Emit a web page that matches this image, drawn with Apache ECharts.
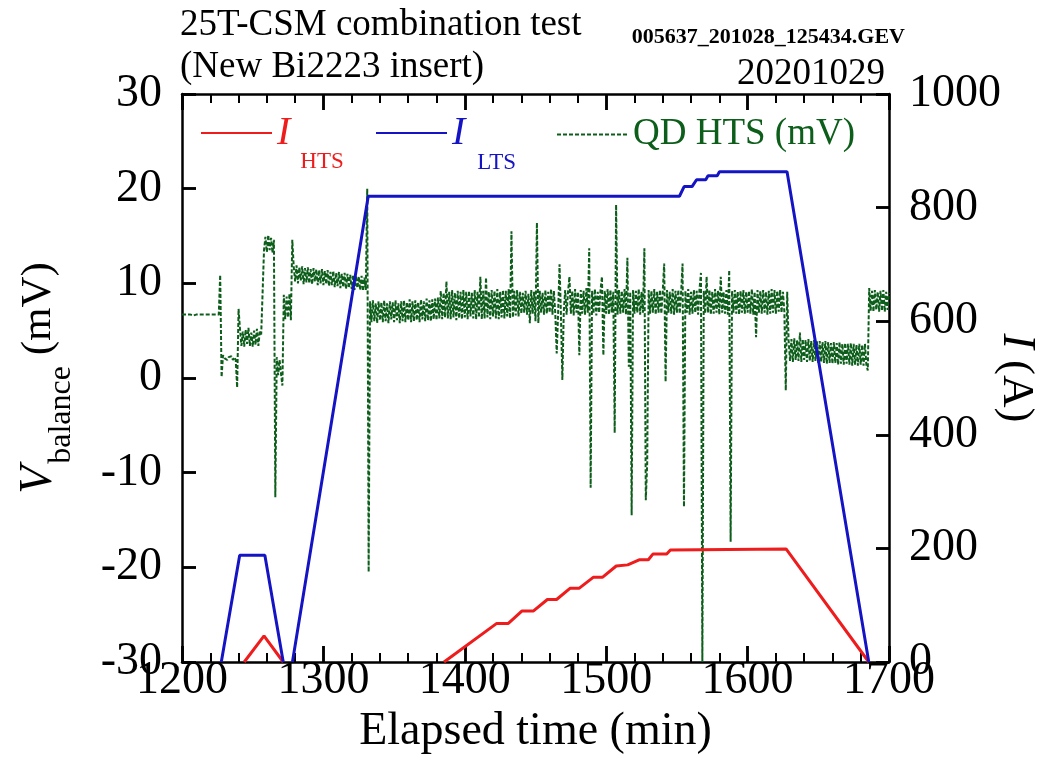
<!DOCTYPE html>
<html>
<head>
<meta charset="utf-8">
<script src="https://cdn.jsdelivr.net/npm/echarts@6/dist/echarts.min.js"></script>
<style>html,body{margin:0;padding:0;background:#fff}#c{width:1062px;height:766px}</style>
</head>
<body>
<div id="c"></div>
<script>
// ---- data ----
const xTicks = [1200, 1300, 1400, 1500, 1600, 1700];
const vTicks = [-30, -20, -10, 0, 10, 20, 30];
const iTicks = [0, 200, 400, 600, 800, 1000];

// I_HTS (A) vs elapsed time (min); null = gap
const htsTime = [1244, 1258, 1271.6, 1300, 1385.3, 1422.6, 1430.8, 1440.5, 1448.6, 1458.4, 1464.9, 1474.6, 1481.0, 1490.8, 1497.3, 1507.1, 1515.2, 1523.3, 1529.8, 1533.0, 1542.8, 1545.4, 1627.2, 1685.7];
const htsCurrent = [0, 46, 0, null, 0, 68, 68, 90, 90, 110, 110, 130, 130, 149, 149, 169, 171, 180, 180, 190, 190, 197, 199, 0];

// I_LTS (A) vs elapsed time (min); null = gap
const ltsTime = [1227.8, 1240.8, 1258.6, 1271.6, 1275, 1278.1, 1331.7, 1551.8, 1555.1, 1560.7, 1563.9, 1570.4, 1572.0, 1578.5, 1580.1, 1627.9, 1685.7];
const ltsCurrent = [0, 188, 188, 0, null, 0, 820, 820, 837, 837, 849, 849, 856, 856, 863, 863, 0];

// QD HTS balance voltage (mV), logged once per minute from qdStart
const qdStart = 1200;
const qdStep = 1;
const qdValues = [
  6.7,6.6,6.7,6.8,6.7,6.6,6.7,6.7,6.6,6.7,      // 1200
  6.7,6.6,6.7,6.8,6.7,6.6,6.7,6.6,6.7,6.6,      // 1210
  6.7,6.6,6.7,6.6,6.7,6.6,6.7,10.9,0.1,2.4,     // 1220
  2.1,2.3,1.9,2.2,2.0,2.3,1.9,2.2,1.9,-1.0,     // 1230
  7.3,5.2,3.4,4.9,3.3,5.1,3.6,5.3,3.4,4.8,      // 1240
  3.3,5.0,3.5,5.2,3.4,4.9,4.6,9.0,13.5,14.9,    // 1250
  13.3,15.1,13.5,14.8,13.2,14.6,-12.6,2.2,0.3,1.9, // 1260
  0.5,-0.8,8.8,6.2,8.6,6.4,8.9,6.1,14.6,11.8,   // 1270
  10.2,11.9,10.0,11.7,10.3,11.8,9.9,11.6,10.1,11.7, // 1280
  10.0,11.5,9.9,11.6,10.2,11.5,9.8,11.4,10.0,11.5,  // 1290
  9.8,11.3,9.9,11.4,9.7,11.2,9.8,11.3,9.6,11.1,  // 1300
  9.7,11.2,9.5,11.0,9.6,11.1,9.4,11.0,9.5,10.9,  // 1310
  9.4,10.9,9.3,10.8,9.5,10.7,9.3,10.8,9.2,10.6,  // 1320
  9.3,20.0,-20.5,8.1,5.9,8.2,6.0,7.9,5.8,8.1,    // 1330
  6.1,8.0,5.9,8.2,6.0,7.9,5.8,8.1,6.2,8.0,       // 1340
  5.9,8.2,6.1,7.9,5.8,8.1,6.0,8.2,5.9,8.0,       // 1350
  6.1,8.3,5.9,8.1,6.0,8.2,6.1,8.0,5.9,8.3,       // 1360
  6.2,8.1,6.0,8.4,6.1,8.2,6.0,8.3,6.2,8.4,       // 1370
  6.1,8.5,6.3,9.2,6.2,9.0,6.4,10.2,6.3,9.1,      // 1380
  6.2,9.3,6.4,9.0,6.1,9.2,6.3,9.1,6.2,9.3,       // 1390
  6.4,9.1,6.2,9.2,6.5,9.0,6.3,9.3,6.2,9.1,       // 1400
  6.4,10.7,6.2,9.2,6.3,10.6,6.4,9.1,6.2,9.3,     // 1410
  6.5,9.2,6.3,9.4,6.2,9.1,6.4,9.3,6.3,9.2,       // 1420
  6.5,9.4,6.3,15.5,6.4,9.2,6.6,9.3,6.5,9.1,      // 1430
  6.8,9.0,6.9,9.2,6.7,8.9,5.8,9.3,6.8,9.1,       // 1440
  6.0,16.4,5.8,9.2,6.9,9.0,6.7,9.3,6.8,9.1,      // 1450
  6.9,9.4,6.7,9.2,6.8,2.6,6.9,12.0,6.6,-0.2,     // 1460
  7.0,9.3,6.7,9.1,10.7,6.8,9.2,6.6,9.4,6.9,      // 1470
  9.1,2.4,9.3,6.8,9.2,6.7,9.5,6.9,13.7,-11.6,    // 1480
  9.2,6.8,9.4,6.6,9.1,6.9,9.3,10.7,2.4,9.2,      // 1490
  6.8,9.4,6.7,9.3,6.9,9.1,-5.8,18.3,6.7,9.3,     // 1500
  6.8,9.2,6.9,9.4,6.7,12.7,1.2,9.1,-14.5,9.3,    // 1510
  6.8,9.2,6.9,9.4,6.7,9.1,6.9,13.7,-12.9,-9.0,   // 1520
  9.3,6.8,9.2,6.9,9.4,6.7,9.1,6.9,9.3,6.8,       // 1530
  9.2,12.1,-0.4,9.3,6.9,9.1,6.8,9.4,6.7,9.2,     // 1540
  6.9,9.3,6.8,9.1,12.1,-13.6,9.2,6.9,9.4,6.7,    // 1550
  9.1,6.8,9.3,6.9,9.2,6.7,9.4,11.1,-30,9.2,      // 1560
  6.8,10.7,6.9,9.3,6.7,9.1,6.8,9.4,6.9,9.2,      // 1570
  6.7,10.7,6.9,9.1,6.8,9.3,6.7,11.4,-17.3,9.2,   // 1580
  6.9,9.3,6.8,9.1,6.7,9.2,6.9,9.3,6.8,9.1,       // 1590
  6.9,9.2,6.8,9.4,6.7,9.1,4.3,9.3,6.9,9.2,       // 1600
  6.8,9.3,6.9,9.1,6.7,9.2,6.8,9.4,6.9,9.3,       // 1610
  6.8,9.2,7.0,9.3,6.9,9.1,7.0,-1.3,9.1,4.0,      // 1620
  1.8,4.1,1.7,4.2,1.9,4.0,1.8,4.8,1.7,4.1,       // 1630
  1.9,4.0,1.7,4.1,1.8,3.9,1.7,4.0,1.8,3.9,       // 1640
  1.6,3.9,1.7,3.8,1.6,3.9,1.5,3.8,1.6,3.7,       // 1650
  1.5,3.8,1.6,3.7,1.4,3.8,1.5,3.6,1.4,3.7,       // 1660
  1.5,3.6,1.4,3.7,1.3,3.6,1.4,3.5,1.3,3.6,       // 1670
  1.4,3.5,1.3,3.6,1.4,0.8,9.5,7.1,9.2,7.0,       // 1680
  9.3,7.2,9.1,7.0,9.2,7.1,9.3,7.0,9.1,7.2,       // 1690
  9.0                                            // 1700
];

// ---- build series data ----
const pair = (t, v) => (v === null ? [t, '-'] : [t, v]);
const htsData = htsTime.map((t, i) => pair(t, htsCurrent[i]));
const ltsData = ltsTime.map((t, i) => pair(t, ltsCurrent[i]));
const qdData = qdValues.map((v, i) => [qdStart + i * qdStep, v]);

const FONT = "'Liberation Serif','Times New Roman',serif";
const RED = '#ee1c1c';
const BLUE = '#1414c4';
const GREEN = '#0c5e1a';
const BLACK = '#000000';

const X_MIN = xTicks[0], X_MAX = xTicks[xTicks.length - 1];
const V_MIN = vTicks[0], V_MAX = vTicks[vTicks.length - 1];
const I_MIN = iTicks[0], I_MAX = iTicks[iTicks.length - 1];

function mkLine() { return { show: true, onZero: false, lineStyle: { color: BLACK, width: 2.5 } }; }
function mkTick(len) { return { show: true, inside: true, length: len, lineStyle: { color: BLACK, width: 2.5 } }; }
function mkMinor() { return { show: true, splitNumber: 5, length: 9, lineStyle: { color: BLACK, width: 2 } }; }
function mkLabel(margin, ticks) {
  return { show: true, margin: margin, color: BLACK, fontFamily: FONT, fontSize: 46,
           formatter: function (v) { return ticks.indexOf(v) >= 0 ? String(v) : ''; } };
}
function hidden() {
  return { axisLine: { show: false }, axisTick: { show: false }, axisLabel: { show: false }, splitLine: { show: false } };
}
// tick strips: short split lines of the axis scale inside thin grids along each frame edge
function tickStripAxis(gridIndex, min, max, interval, minor) {
  return { type: 'value', gridIndex: gridIndex, min: min, max: max, interval: interval,
    axisLine: { show: false }, axisTick: { show: false }, axisLabel: { show: false },
    minorTick: { show: false, splitNumber: 5 },
    splitLine: { show: !minor, lineStyle: { color: BLACK, width: 2.5 } },
    minorSplitLine: { show: !!minor, lineStyle: { color: BLACK, width: 2 } } };
}
function unitAxis(gridIndex) {
  return Object.assign({ type: 'value', gridIndex: gridIndex, min: 0, max: 1 }, hidden());
}

const L = 182, R = 173, T = 94, B = 104;

const chart = echarts.init(document.getElementById('c'));
chart.setOption({
  animation: false,
  backgroundColor: '#ffffff',
  title: [
    { text: '25T-CSM combination test\n(New Bi2223 insert)', left: 180, top: 4, padding: 0,
      textStyle: { fontFamily: FONT, fontSize: 37, fontWeight: 'normal', color: BLACK, lineHeight: 42 } },
    { text: '005637_201028_125434.GEV', right: 157, top: 26, padding: 0,
      textStyle: { fontFamily: FONT, fontSize: 22, fontWeight: 'bold', color: BLACK } },
    { text: '20201029', right: 177, top: 56, padding: 0,
      textStyle: { fontFamily: FONT, fontSize: 37, fontWeight: 'normal', color: BLACK } }
  ],
  legend: [
    { data: ['I_HTS'], left: 200, top: 113, padding: 0, itemWidth: 71, itemHeight: 2, selectedMode: false,
      itemStyle: { opacity: 0 },
      formatter: function () { return '{i|I}{s|HTS}'; },
      textStyle: { rich: {
        i: { fontFamily: FONT, fontStyle: 'italic', fontSize: 40, color: RED },
        s: { fontFamily: FONT, fontSize: 23, color: RED, padding: [58, 0, 0, 10] } } } },
    { data: ['I_LTS'], left: 375, top: 113, padding: 0, itemWidth: 71, itemHeight: 2, selectedMode: false,
      itemStyle: { opacity: 0 },
      formatter: function () { return '{i|I}{s|LTS}'; },
      textStyle: { rich: {
        i: { fontFamily: FONT, fontStyle: 'italic', fontSize: 40, color: BLUE },
        s: { fontFamily: FONT, fontSize: 23, color: BLUE, padding: [60, 0, 0, 12] } } } },
    { data: ['QD HTS (mV)'], left: 556, top: 116, padding: 0, itemWidth: 71, itemHeight: 2, selectedMode: false,
      itemStyle: { opacity: 0 },
      textStyle: { fontFamily: FONT, fontSize: 37, color: GREEN } }
  ],
  grid: [
    { left: L, right: R, top: T, bottom: B, containLabel: false },            // 0 data
    { left: L, right: R, top: T, bottom: B, containLabel: false },            // 1 frame, labels, names
    { left: L, right: R, top: T, height: 16, containLabel: false },           // 2 top major ticks
    { left: L, right: R, top: T, height: 9, containLabel: false },            // 3 top minor ticks
    { left: L, right: R, bottom: B, height: 16, containLabel: false },        // 4 bottom major ticks
    { left: L, right: R, bottom: B, height: 9, containLabel: false },         // 5 bottom minor ticks
    { left: L, width: 14, top: T, bottom: B, containLabel: false },           // 6 left ticks
    { right: R, width: 13, top: T, bottom: B, containLabel: false }           // 7 right ticks
  ],
  xAxis: [
    Object.assign({ type: 'value', gridIndex: 0, position: 'bottom', min: X_MIN, max: X_MAX }, hidden()),
    { type: 'value', gridIndex: 1, position: 'bottom', min: X_MIN, max: X_MAX, interval: 100,
      axisLine: mkLine(), axisTick: mkTick(16), minorTick: mkMinor(),
      axisLabel: mkLabel(-4, xTicks), splitLine: { show: false },
      name: 'Elapsed time (min)', nameLocation: 'middle', nameGap: 46,
      nameTextStyle: { fontFamily: FONT, fontSize: 46, color: BLACK } },
    { type: 'value', gridIndex: 1, position: 'top', min: X_MIN, max: X_MAX, interval: 100,
      axisLine: mkLine(), axisTick: mkTick(16), minorTick: mkMinor(),
      axisLabel: { show: false }, splitLine: { show: false } },
    tickStripAxis(2, X_MIN, X_MAX, 100, false),
    tickStripAxis(3, X_MIN, X_MAX, 100, true),
    tickStripAxis(4, X_MIN, X_MAX, 100, false),
    tickStripAxis(5, X_MIN, X_MAX, 100, true),
    unitAxis(6),
    unitAxis(7)
  ],
  yAxis: [
    Object.assign({ type: 'value', gridIndex: 0, position: 'left', min: V_MIN, max: V_MAX }, hidden()),
    Object.assign({ type: 'value', gridIndex: 0, position: 'right', min: I_MIN, max: I_MAX }, hidden()),
    { type: 'value', gridIndex: 1, position: 'left', min: V_MIN, max: V_MAX, interval: 10,
      axisLine: mkLine(), axisTick: mkTick(14),
      axisLabel: mkLabel(20, vTicks), splitLine: { show: false },
      name: '{i|V}{s|balance}{n| (mV)}', nameLocation: 'middle', nameRotate: 90, nameGap: 104,
      nameTextStyle: { rich: {
        i: { fontFamily: FONT, fontStyle: 'italic', fontSize: 46, color: BLACK },
        s: { fontFamily: FONT, fontSize: 32, color: BLACK, padding: [46, 0, 0, 2] },
        n: { fontFamily: FONT, fontSize: 43, color: BLACK } } } },
    { type: 'value', gridIndex: 1, position: 'right', min: I_MIN, max: I_MAX, interval: 200,
      axisLine: mkLine(), axisTick: mkTick(13),
      axisLabel: mkLabel(20, iTicks), splitLine: { show: false },
      name: '{i|I}{n| (A)}', nameLocation: 'middle', nameRotate: -90, nameGap: 104, nameMoveOverlap: false,
      nameTextStyle: { rich: {
        i: { fontFamily: FONT, fontStyle: 'italic', fontSize: 46, color: BLACK },
        n: { fontFamily: FONT, fontSize: 45, color: BLACK } } } },
    unitAxis(2),
    unitAxis(3),
    unitAxis(4),
    unitAxis(5),
    tickStripAxis(6, V_MIN, V_MAX, 10, false),
    tickStripAxis(7, I_MIN, I_MAX, 200, false)
  ],
  series: [
    { name: 'QD HTS (mV)', type: 'line', xAxisIndex: 0, yAxisIndex: 0, data: qdData,
      showSymbol: false, symbol: 'none', clip: true,
      lineStyle: { color: GREEN, width: 2, type: [4, 2] }, itemStyle: { color: GREEN } },
    { name: 'I_HTS', type: 'line', xAxisIndex: 0, yAxisIndex: 1, data: htsData,
      showSymbol: false, symbol: 'none', clip: true, connectNulls: false,
      lineStyle: { color: RED, width: 3 }, itemStyle: { color: RED } },
    { name: 'I_LTS', type: 'line', xAxisIndex: 0, yAxisIndex: 1, data: ltsData,
      showSymbol: false, symbol: 'none', clip: true, connectNulls: false,
      lineStyle: { color: BLUE, width: 3 }, itemStyle: { color: BLUE } }
  ]
});
</script>
</body>
</html>
